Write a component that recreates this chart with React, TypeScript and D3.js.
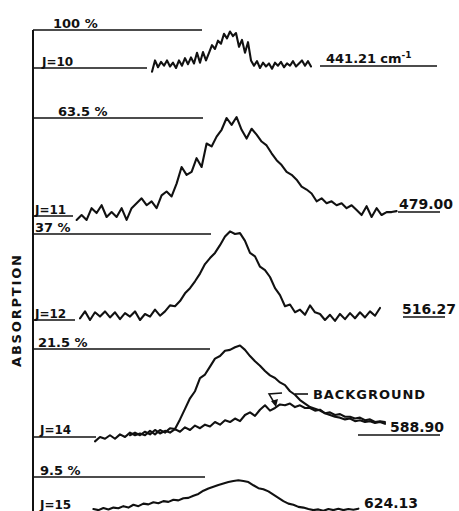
import * as d3 from 'd3';

const W = 459;
const H = 511;

// rotational lines and their printed labels
const jLabels = ['J=10', 'J=11', 'J=12', 'J=14', 'J=15'];
const fullScale = ['100 %', '63.5 %', '37 %', '21.5 %', '9.5 %'];
const lineFreqs = ['441.21', '479.00', '516.27', '588.90', '624.13'];

// scan extent of each trace, relative offset from line centre
const spanJ10 = [-0.4, 0.395];
const spanJ11 = [-0.777, 0.823];
const spanJ12 = [-0.76, 0.74];
const spanJ14 = [-0.685, 0.765];
const spanJ14bg = [-0.51, 0.765];
const spanJ15 = [-0.693, 0.632];

// absorption as fraction of the panel's full scale
const absJ10 = [
  -0.1, 0.2, 0.02, 0.16, 0.06, 0.2, 0.04, 0.14, 0.0, 0.2, 0.06, 0.26, 0.1,
  0.28, 0.12, 0.4, 0.14, 0.42, 0.2, 0.4, 0.6, 0.5, 0.72, 0.64, 0.9, 0.78,
  0.96, 0.84, 0.92, 0.56, 0.74, 0.4, 0.68, 0.2, 0.06, 0.18, 0.0, 0.14, 0.04,
  0.12, -0.02, 0.14, 0.06, 0.16, 0.02, 0.12, 0.06, 0.18, 0.04, 0.12, 0.2,
  0.06, 0.18, 0.04,
];
const absJ11 = [
  -0.04, 0.01, -0.04, 0.08, 0.03, 0.11, -0.01, 0.04, -0.01, 0.08, -0.04, 0.08,
  0.13, 0.18, 0.11, 0.15, 0.08, 0.21, 0.25, 0.2, 0.33, 0.5, 0.42, 0.45, 0.59,
  0.5, 0.74, 0.71, 0.81, 0.88, 1.0, 0.93, 1.01, 0.88, 0.79, 0.89, 0.83, 0.76,
  0.72, 0.64, 0.57, 0.52, 0.45, 0.42, 0.37, 0.3, 0.27, 0.23, 0.15, 0.18, 0.13,
  0.15, 0.11, 0.13, 0.08, 0.11, 0.06, 0.01, 0.1, -0.01, 0.08, 0.01, 0.04,
  0.04, 0.05,
];
const absJ12 = [
  0.02, 0.1, 0.0, 0.09, 0.04, 0.1, 0.03, 0.09, 0.01, 0.08, 0.04, 0.1, 0.0,
  0.07, 0.04, 0.12, 0.05, 0.1, 0.17, 0.16, 0.22, 0.31, 0.37, 0.45, 0.54, 0.65,
  0.72, 0.78, 0.87, 0.97, 1.03, 1.0, 1.01, 0.92, 0.78, 0.74, 0.62, 0.58, 0.5,
  0.37, 0.29, 0.16, 0.18, 0.09, 0.12, 0.06, 0.17, 0.09, 0.07, 0.0, 0.06,
  -0.01, 0.07, 0.01, 0.08, 0.02, 0.09, 0.03, 0.1, 0.05, 0.14,
];
const absJ14 = [
  -0.05, 0.0, -0.02, 0.02, -0.02, 0.03, 0.0, 0.05, 0.02, 0.04, 0.02, 0.07,
  0.03, 0.08, 0.05, 0.1, 0.09, 0.2, 0.32, 0.44, 0.52, 0.67, 0.71, 0.8, 0.89,
  0.92, 0.98, 0.99, 1.02, 1.04, 0.99, 0.92, 0.86, 0.81, 0.75, 0.7, 0.67, 0.62,
  0.59, 0.52, 0.48, 0.42, 0.38, 0.34, 0.32, 0.3, 0.27, 0.25, 0.23, 0.22, 0.2,
  0.21, 0.18, 0.19, 0.17, 0.18, 0.16, 0.17, 0.15,
];
const absJ14bg = [
  0.02, 0.05, 0.02, 0.06, 0.03, 0.08, 0.04, 0.07, 0.05, 0.09, 0.06, 0.11,
  0.08, 0.13, 0.1, 0.14, 0.12, 0.17, 0.14, 0.19, 0.17, 0.21, 0.18, 0.25, 0.28,
  0.24, 0.31, 0.36, 0.3, 0.33, 0.37, 0.36, 0.38, 0.34, 0.36, 0.33, 0.33, 0.3,
  0.31, 0.27, 0.28, 0.25, 0.26, 0.23, 0.23, 0.21, 0.22, 0.19, 0.2, 0.17, 0.18,
  0.17,
];
const absJ15 = [
  0.11, 0.08, 0.14, 0.1, 0.15, 0.13, 0.19, 0.15, 0.23, 0.19, 0.26, 0.24, 0.3,
  0.27, 0.33, 0.31, 0.37, 0.35, 0.41, 0.42, 0.48, 0.53, 0.62, 0.68, 0.73, 0.78,
  0.82, 0.86, 0.89, 0.91, 0.89, 0.86, 0.77, 0.69, 0.66, 0.6, 0.51, 0.42, 0.33,
  0.26, 0.23, 0.17, 0.15, 0.11, 0.08, 0.1, 0.06, 0.11, 0.08, 0.12, 0.08, 0.11,
  0.09, 0.12,
];

const traces = [
  { panel: 0, span: spanJ10, values: absJ10 },
  { panel: 1, span: spanJ11, values: absJ11 },
  { panel: 2, span: spanJ12, values: absJ12 },
  { panel: 3, span: spanJ14, values: absJ14 },
  { panel: 3, span: spanJ14bg, values: absJ14bg },
  { panel: 4, span: spanJ15, values: absJ15 },
];

// panel layout (pixels)
const panelTop = [30, 118, 234, 349, 477];
const panelBase = [68, 216, 320, 437, 513];
const topLineEnd = [202, 203, 211, 210, 205];
const stubEnd = [147, 73, 75, 96, 90];
const pctX = [53, 58, 35, 38, 40];
const jX = [42, 35, 35, 40, 40];
const jY = [66, 214, 318, 434, 509];
const freqX = [326, 399, 402, 390, 364];
const freqY = [63, 209, 314, 432, 508];
const ulineY = [66, 212, 317, 435, 512];
const ulineX = [[320, 437], [398, 440], [403, 445], [358, 440], [363, 440]];

const AXIS_X = 33;
const ink = '#111';
const font = "'DejaVu Sans', Verdana, sans-serif";

const x = d3.scaleLinear().domain([-1, 1]).range([32, 432]);
const yScales = panelTop.map((t, i) =>
  d3.scaleLinear().domain([0, 1]).range([panelBase[i], t])
);

function tracePath(span: number[], values: number[], panel: number) {
  const idx = d3
    .scaleLinear()
    .domain([0, values.length - 1])
    .range(span);
  const y = yScales[panel];
  return d3
    .line<number>()
    .x((_, i) => x(idx(i)))
    .y((v) => y(v))(values);
}

export default function App() {
  return (
    <svg
      width={W}
      height={H}
      style={{ position: 'absolute', left: 0, top: 0, background: '#fff' }}
    >
      <line x1={AXIS_X} x2={AXIS_X} y1={panelTop[0]} y2={H} stroke={ink} strokeWidth={2} />

      {panelTop.map((t, i) => (
        <g key={i} fill={ink} fontFamily={font} fontWeight="bold">
          <line x1={AXIS_X} x2={topLineEnd[i]} y1={t} y2={t} stroke={ink} strokeWidth={1.7} />
          <line x1={AXIS_X} x2={stubEnd[i]} y1={panelBase[i]} y2={panelBase[i]} stroke={ink} strokeWidth={1.7} />
          <text x={pctX[i]} y={t - 2} fontSize={13}>
            {fullScale[i]}
          </text>
          <text x={jX[i]} y={jY[i]} fontSize={12}>
            {jLabels[i]}
          </text>
          <text x={freqX[i]} y={freqY[i]} fontSize={i === 0 ? 13 : 14}>
            {lineFreqs[i]}
            {i === 0 && (
              <>
                <tspan dx={4}>cm</tspan>
                <tspan dy={-5} fontSize={9}>-1</tspan>
              </>
            )}
          </text>
          <line
            x1={ulineX[i][0]}
            x2={ulineX[i][1]}
            y1={ulineY[i]}
            y2={ulineY[i]}
            stroke={ink}
            strokeWidth={1.7}
          />
        </g>
      ))}

      {traces.map((t, i) => (
        <path
          key={i}
          d={tracePath(t.span, t.values, t.panel) ?? ''}
          fill="none"
          stroke={ink}
          strokeWidth={2.1}
          strokeLinejoin="round"
          strokeLinecap="round"
        />
      ))}

      {/* background annotation */}
      <line x1={295} x2={308} y1={394} y2={394} stroke={ink} strokeWidth={1.6} />
      <polyline points="282,393 269,394 275,404" fill="none" stroke={ink} strokeWidth={1.5} />
      <path d="M271,401 L276,407 L278,399 Z" fill={ink} />
      <text x={313} y={399} fontFamily={font} fontSize={13} fontWeight="bold" fill={ink} textLength={112}>
        BACKGROUND
      </text>

      <text
        transform="translate(21,311) rotate(-90)"
        textAnchor="middle"
        fontFamily={font}
        fontSize={13}
        fontWeight="bold"
        fill={ink}
        textLength={112}
      >
        ABSORPTION
      </text>
    </svg>
  );
}
